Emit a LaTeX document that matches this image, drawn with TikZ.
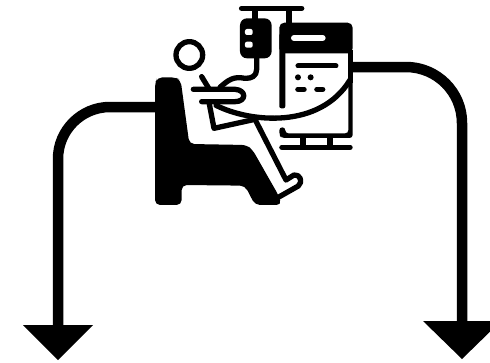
\documentclass[tikz,border=0pt]{standalone}
\usetikzlibrary{arrows.meta}

\begin{document}
\begin{tikzpicture}[
  x=1pt, y=-1pt,
  flow/.style={line width=10.5pt, rounded corners=52pt},
  lefthead/.style={-{Triangle[length=35pt, width=70pt, line width=0pt]}},
  righthead/.style={-{Triangle[length=38pt, width=78pt, line width=0pt]}},
  icon/.style={shift={(140,0)}, x=0.3333pt, y=-0.3333pt},
  stroke/.style={line width=5.3pt, line cap=round, line join=round},
  hole/.style={fill=white, rounded corners=2pt}
]
\useasboundingbox (0,0) rectangle (490,362);
\clip (0,0) rectangle (490,362);

% ── Connector ends ──
\coordinate (chair) at (156,107);
\coordinate (monitor) at (350,67);
\coordinate (leftend) at (58,360);
\coordinate (rightend) at (462,359);
\coordinate (leftturn) at (58,107);
\coordinate (rightturn) at (462,67);

% ── Arrows ──
\draw[flow, lefthead] (chair) -- (leftturn) -- (leftend);
\draw[flow, righthead, rounded corners=56pt] (monitor) -- (rightturn) -- (rightend);

\begin{scope}[icon]
% ── Drip stand ──
\draw[line width=5.5pt, line cap=round] (305,25) -- (485,25);
\draw[line width=6pt] (345,25) -- (345,70);
\draw[line width=6pt] (448,25) -- (448,80);
\fill[rounded corners=7pt] (300,55) rectangle (395,175);
\fill[hole] (315,87) rectangle (338,105);
\fill[hole] (315,125) rectangle (338,143);
\draw[stroke] (350,170) -- (350,208) .. controls (350,228) and (335,236) .. (315,235)
  .. controls (280,228) and (265,240) .. (240,262);

% ── Monitor ──
\fill[rounded corners=5pt] (418,68) -- (638,68) -- (638,160) -- (418,160) -- cycle;
\fill[rounded corners=2pt] (418,100) rectangle (436,325);
\fill (625,150) rectangle (638,250);
\fill[rounded corners=3pt] (625,240) -- (638,240) -- (638,414) -- (425,414) -- (418,405) -- (418,382) -- (436,382) -- (436,400) -- (625,400) -- cycle;
\draw[line width=6pt, white, line cap=round] (462,114) -- (548,114);
\draw[line width=5pt, line cap=round] (474,198) -- (588,198);
\fill (474,232) circle (9);
\fill (512,232) circle (9);
\draw[line width=5.5pt, line cap=round] (474,268) -- (492,268);
\draw[line width=5.5pt, line cap=round] (531,268) -- (548,268);
\draw[line width=6pt] (488,410) -- (488,438);
\draw[line width=6pt] (570,410) -- (570,438);
\draw[line width=5.5pt, line cap=round] (426,442) -- (630,442);

% ── Chair ──
\fill[rounded corners=5pt] (45,250) -- (52,232) -- (105,232) -- (122,240) -- (148,432)
  -- (320,435) -- (338,450) -- (415,585) -- (425,615) -- (345,615) -- (315,557)
  -- (125,555) -- (125,615) -- (45,615) -- cycle;

% ── Patient ──
\draw[line width=5.3pt] (148,165) circle (40);
\draw[stroke] (185,230) -- (208,268);
\draw[stroke] (160,268) -- (285,268) .. controls (320,270) and (320,305) .. (285,305) -- (185,305);
\draw[stroke] (208,312) -- (222,385) -- (345,358) -- (438,540) -- (462,525)
  .. controls (480,522) and (490,545) .. (475,558) -- (415,592);

% ── Infusion line ──
\draw[stroke] (228,316) .. controls (330,368) and (540,388) .. (630,240);
\end{scope}

\end{tikzpicture}
\end{document}
